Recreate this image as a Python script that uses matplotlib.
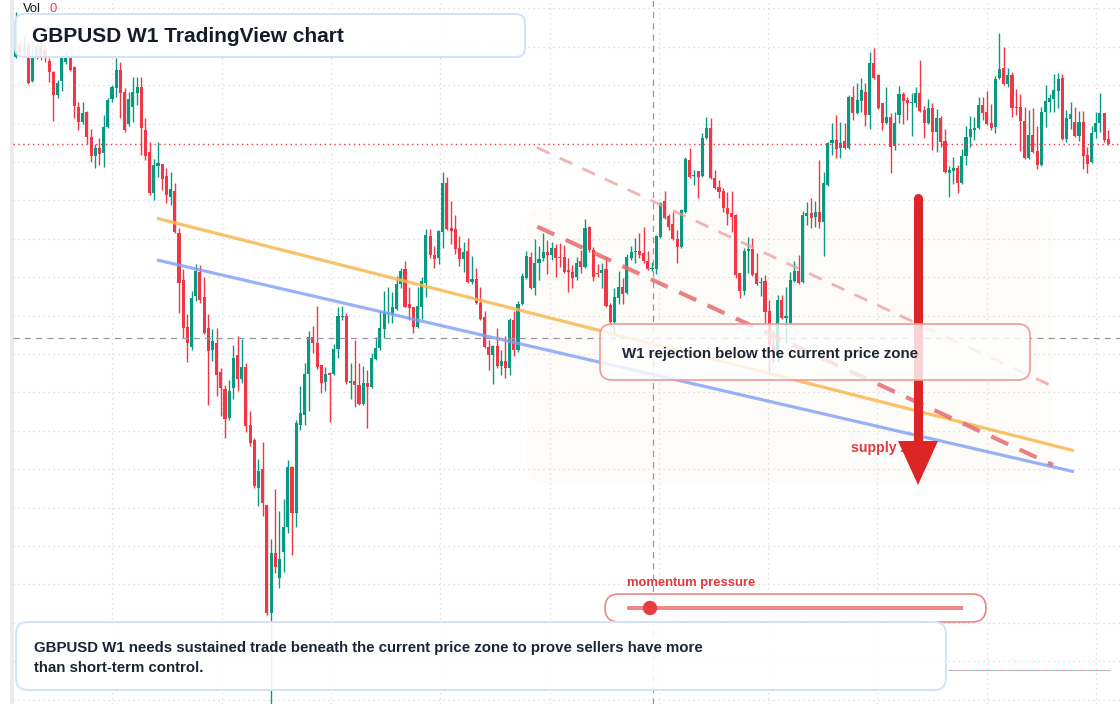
import numpy as np
import matplotlib
matplotlib.use("Agg")
import matplotlib.pyplot as plt
from matplotlib.patches import FancyBboxPatch, Circle, Polygon, Rectangle

# ---------------- data (weekly GBPUSD candles) ----------------
opens = [
    1.593, 1.605, 1.598, 1.605, 1.569, 1.592, 1.604, 1.600, 1.589, 1.578,
    1.555, 1.569, 1.588, 1.592, 1.583, 1.543, 1.528, 1.538, 1.513, 1.494,
    1.502, 1.497, 1.523, 1.551, 1.562, 1.580, 1.558, 1.526, 1.543, 1.557,
    1.563, 1.520, 1.498, 1.457, 1.484, 1.486, 1.474, 1.453, 1.459, 1.417,
    1.370, 1.323, 1.303, 1.354, 1.378, 1.353, 1.322, 1.300, 1.307, 1.278,
    1.261, 1.232, 1.262, 1.295, 1.271, 1.283, 1.225, 1.210, 1.162, 1.181,
    1.145, 1.037, 1.097, 1.072, 1.098, 1.123, 1.183, 1.137, 1.225, 1.235,
    1.276, 1.313, 1.307, 1.285, 1.268, 1.277, 1.276, 1.301, 1.333, 1.334,
    1.267, 1.269, 1.265, 1.246, 1.267, 1.263, 1.291, 1.302, 1.321, 1.336,
    1.336, 1.341, 1.366, 1.381, 1.346, 1.343, 1.323, 1.343, 1.367, 1.414,
    1.395, 1.392, 1.418, 1.467, 1.422, 1.421, 1.402, 1.391, 1.399, 1.368,
    1.371, 1.347, 1.333, 1.303, 1.295, 1.304, 1.284, 1.289, 1.282, 1.330,
    1.300, 1.346, 1.372, 1.393, 1.362, 1.387, 1.392, 1.398, 1.395, 1.402,
    1.393, 1.393, 1.380, 1.378, 1.373, 1.389, 1.383, 1.423, 1.400, 1.377,
    1.377, 1.381, 1.345, 1.328, 1.352, 1.363, 1.357, 1.392, 1.398, 1.399,
    1.397, 1.389, 1.381, 1.381, 1.413, 1.449, 1.434, 1.426, 1.411, 1.403,
    1.438, 1.490, 1.474, 1.479, 1.474, 1.512, 1.522, 1.472, 1.463, 1.459,
    1.442, 1.437, 1.435, 1.377, 1.359, 1.399, 1.401, 1.377, 1.367, 1.369,
    1.339, 1.305, 1.295, 1.350, 1.332, 1.327, 1.369, 1.379, 1.368, 1.434,
    1.437, 1.433, 1.438, 1.428, 1.465, 1.507, 1.510, 1.502, 1.509, 1.502,
    1.553, 1.537, 1.549, 1.558, 1.535, 1.587, 1.575, 1.547, 1.527, 1.533,
    1.504, 1.535, 1.556, 1.550, 1.547, 1.547, 1.557, 1.540, 1.527, 1.542,
    1.518, 1.532, 1.509, 1.477, 1.479, 1.482, 1.467, 1.494, 1.513, 1.520,
    1.522, 1.545, 1.538, 1.527, 1.523, 1.572, 1.582, 1.566, 1.575, 1.543,
    1.543, 1.529, 1.492, 1.515, 1.499, 1.485, 1.538, 1.548, 1.551, 1.559,
    1.572, 1.511, 1.531, 1.528, 1.514, 1.528, 1.495, 1.488, 1.518, 1.527,
    1.537, 1.511,
]
highs = [
    1.638, 1.610, 1.614, 1.608, 1.602, 1.608, 1.608, 1.605, 1.592, 1.579,
    1.570, 1.595, 1.598, 1.595, 1.584, 1.548, 1.548, 1.539, 1.521, 1.506,
    1.512, 1.535, 1.552, 1.565, 1.592, 1.588, 1.562, 1.558, 1.573, 1.573,
    1.573, 1.532, 1.508, 1.491, 1.508, 1.486, 1.482, 1.478, 1.467, 1.422,
    1.381, 1.336, 1.359, 1.386, 1.385, 1.373, 1.336, 1.321, 1.322, 1.282,
    1.265, 1.270, 1.305, 1.314, 1.311, 1.287, 1.239, 1.212, 1.191, 1.208,
    1.145, 1.111, 1.161, 1.139, 1.151, 1.190, 1.184, 1.230, 1.264, 1.287,
    1.319, 1.324, 1.344, 1.285, 1.283, 1.278, 1.306, 1.343, 1.344, 1.337,
    1.287, 1.310, 1.287, 1.284, 1.280, 1.297, 1.313, 1.339, 1.359, 1.363,
    1.358, 1.374, 1.382, 1.389, 1.363, 1.343, 1.363, 1.373, 1.421, 1.421,
    1.404, 1.420, 1.478, 1.473, 1.449, 1.435, 1.414, 1.408, 1.412, 1.394,
    1.382, 1.363, 1.339, 1.310, 1.305, 1.322, 1.300, 1.314, 1.332, 1.339,
    1.349, 1.377, 1.399, 1.398, 1.411, 1.404, 1.417, 1.410, 1.408, 1.406,
    1.407, 1.405, 1.392, 1.385, 1.393, 1.400, 1.431, 1.424, 1.403, 1.386,
    1.387, 1.393, 1.347, 1.362, 1.379, 1.372, 1.396, 1.404, 1.412, 1.417,
    1.423, 1.399, 1.388, 1.415, 1.448, 1.459, 1.436, 1.438, 1.420, 1.441,
    1.493, 1.502, 1.480, 1.479, 1.517, 1.533, 1.532, 1.480, 1.470, 1.462,
    1.458, 1.459, 1.436, 1.377, 1.402, 1.413, 1.412, 1.397, 1.373, 1.375,
    1.350, 1.320, 1.355, 1.355, 1.363, 1.378, 1.389, 1.395, 1.439, 1.448,
    1.452, 1.449, 1.490, 1.478, 1.508, 1.527, 1.535, 1.528, 1.527, 1.555,
    1.564, 1.567, 1.572, 1.567, 1.598, 1.602, 1.576, 1.547, 1.563, 1.537,
    1.538, 1.564, 1.558, 1.553, 1.557, 1.563, 1.590, 1.544, 1.551, 1.547,
    1.541, 1.534, 1.521, 1.484, 1.493, 1.485, 1.501, 1.524, 1.534, 1.533,
    1.553, 1.553, 1.559, 1.546, 1.574, 1.617, 1.603, 1.582, 1.578, 1.561,
    1.556, 1.543, 1.540, 1.542, 1.524, 1.543, 1.565, 1.556, 1.576, 1.577,
    1.576, 1.540, 1.548, 1.543, 1.539, 1.539, 1.503, 1.524, 1.538, 1.557,
    1.537, 1.520,
]
lows = [
    1.592, 1.595, 1.594, 1.566, 1.568, 1.591, 1.590, 1.588, 1.568, 1.529,
    1.552, 1.559, 1.586, 1.579, 1.532, 1.520, 1.526, 1.506, 1.488, 1.482,
    1.485, 1.483, 1.522, 1.548, 1.553, 1.532, 1.518, 1.524, 1.528, 1.545,
    1.495, 1.490, 1.455, 1.450, 1.473, 1.460, 1.447, 1.445, 1.417, 1.337,
    1.312, 1.288, 1.300, 1.349, 1.347, 1.316, 1.245, 1.289, 1.254, 1.234,
    1.212, 1.230, 1.251, 1.259, 1.267, 1.218, 1.204, 1.162, 1.144, 1.134,
    1.035, 0.945, 1.077, 1.062, 1.078, 1.117, 1.095, 1.123, 1.220, 1.225,
    1.239, 1.297, 1.281, 1.257, 1.259, 1.228, 1.275, 1.292, 1.330, 1.266,
    1.251, 1.243, 1.245, 1.245, 1.222, 1.262, 1.290, 1.300, 1.312, 1.327,
    1.327, 1.340, 1.362, 1.343, 1.330, 1.317, 1.322, 1.331, 1.353, 1.392,
    1.382, 1.386, 1.402, 1.420, 1.406, 1.396, 1.384, 1.378, 1.367, 1.366,
    1.346, 1.330, 1.302, 1.280, 1.266, 1.282, 1.275, 1.272, 1.275, 1.294,
    1.298, 1.345, 1.371, 1.361, 1.355, 1.370, 1.389, 1.376, 1.390, 1.373,
    1.383, 1.377, 1.358, 1.362, 1.370, 1.377, 1.382, 1.398, 1.369, 1.373,
    1.362, 1.343, 1.327, 1.317, 1.346, 1.346, 1.356, 1.390, 1.387, 1.392,
    1.387, 1.380, 1.379, 1.376, 1.412, 1.431, 1.420, 1.410, 1.387, 1.402,
    1.437, 1.472, 1.465, 1.452, 1.473, 1.511, 1.471, 1.461, 1.452, 1.438,
    1.425, 1.418, 1.372, 1.352, 1.355, 1.377, 1.374, 1.365, 1.354, 1.327,
    1.278, 1.288, 1.288, 1.331, 1.307, 1.326, 1.368, 1.366, 1.367, 1.425,
    1.422, 1.423, 1.422, 1.394, 1.464, 1.495, 1.492, 1.492, 1.501, 1.501,
    1.530, 1.536, 1.538, 1.524, 1.521, 1.571, 1.541, 1.520, 1.526, 1.477,
    1.500, 1.527, 1.526, 1.530, 1.514, 1.543, 1.538, 1.512, 1.526, 1.500,
    1.498, 1.503, 1.477, 1.453, 1.466, 1.457, 1.466, 1.485, 1.503, 1.510,
    1.521, 1.530, 1.525, 1.520, 1.517, 1.571, 1.565, 1.563, 1.533, 1.535,
    1.499, 1.491, 1.491, 1.497, 1.481, 1.484, 1.523, 1.538, 1.538, 1.542,
    1.510, 1.508, 1.521, 1.513, 1.509, 1.481, 1.477, 1.487, 1.512, 1.518,
    1.508, 1.505,
]
closes = [
    1.605, 1.598, 1.606, 1.567, 1.592, 1.604, 1.593, 1.592, 1.578, 1.555,
    1.567, 1.592, 1.592, 1.580, 1.544, 1.528, 1.537, 1.513, 1.494, 1.502,
    1.496, 1.523, 1.550, 1.563, 1.580, 1.557, 1.520, 1.551, 1.558, 1.563,
    1.522, 1.494, 1.457, 1.485, 1.487, 1.471, 1.455, 1.461, 1.418, 1.367,
    1.322, 1.307, 1.352, 1.379, 1.350, 1.317, 1.299, 1.309, 1.275, 1.262,
    1.231, 1.259, 1.292, 1.271, 1.283, 1.224, 1.207, 1.164, 1.179, 1.147,
    1.037, 1.097, 1.083, 1.091, 1.123, 1.183, 1.137, 1.227, 1.237, 1.276,
    1.313, 1.307, 1.283, 1.267, 1.276, 1.275, 1.301, 1.334, 1.334, 1.268,
    1.269, 1.265, 1.246, 1.267, 1.263, 1.292, 1.302, 1.322, 1.338, 1.337,
    1.343, 1.366, 1.379, 1.343, 1.342, 1.323, 1.344, 1.369, 1.415, 1.395,
    1.391, 1.419, 1.467, 1.421, 1.419, 1.401, 1.391, 1.398, 1.368, 1.371,
    1.347, 1.331, 1.303, 1.295, 1.304, 1.284, 1.289, 1.282, 1.330, 1.300,
    1.346, 1.374, 1.394, 1.362, 1.387, 1.391, 1.398, 1.395, 1.402, 1.392,
    1.392, 1.378, 1.378, 1.372, 1.387, 1.383, 1.422, 1.400, 1.373, 1.376,
    1.380, 1.344, 1.328, 1.353, 1.363, 1.356, 1.393, 1.398, 1.399, 1.395,
    1.389, 1.381, 1.382, 1.414, 1.447, 1.432, 1.423, 1.411, 1.403, 1.440,
    1.491, 1.473, 1.475, 1.473, 1.512, 1.522, 1.472, 1.462, 1.458, 1.442,
    1.436, 1.433, 1.375, 1.359, 1.399, 1.401, 1.375, 1.366, 1.368, 1.338,
    1.305, 1.295, 1.350, 1.332, 1.334, 1.370, 1.379, 1.367, 1.435, 1.437,
    1.432, 1.438, 1.428, 1.467, 1.507, 1.510, 1.501, 1.507, 1.502, 1.553,
    1.537, 1.550, 1.560, 1.535, 1.587, 1.572, 1.542, 1.527, 1.533, 1.503,
    1.527, 1.556, 1.549, 1.547, 1.548, 1.557, 1.539, 1.527, 1.542, 1.518,
    1.532, 1.508, 1.478, 1.480, 1.482, 1.467, 1.494, 1.513, 1.521, 1.522,
    1.545, 1.537, 1.526, 1.522, 1.571, 1.581, 1.566, 1.575, 1.542, 1.542,
    1.529, 1.492, 1.515, 1.498, 1.485, 1.538, 1.549, 1.552, 1.560, 1.571,
    1.511, 1.532, 1.536, 1.514, 1.528, 1.494, 1.486, 1.517, 1.527, 1.537,
    1.510, 1.506,
]

# drawn trend lines: (candle index, price)
orange_x = [33.76, 252.8]
orange_y = [1.4317, 1.1993]
blue_x = [33.76, 252.8]
blue_y = [1.3900, 1.1783]
upper_dash_x = [124.5, 247.6]
upper_dash_y = [1.5025, 1.2640]
lower_dash_x = [124.6, 247.8]
lower_dash_y = [1.4233, 1.1850]
current_price = 1.506
crosshair_price = 1.3117
crosshair_index = 152.2

title = "GBPUSD W1 TradingView chart"
box_text = "W1 rejection below the current price zone"
zone_label = "supply zone"
gauge_label = "momentum pressure"
note_lines = ["GBPUSD W1 needs sustained trade beneath the current price zone to prove sellers have more",
              "than short-term control."]

# ---------------- figure ----------------
W, H = 1120, 704
fig = plt.figure(figsize=(W / 100, H / 100), dpi=100)
fig.patch.set_facecolor("white")
FONT = ["Liberation Sans", "DejaVu Sans"]

# background layer (pixel coords, y downward)
bg = fig.add_axes([0, 0, 1, 1], zorder=0)
bg.set_xlim(0, W); bg.set_ylim(H, 0); bg.axis("off")
bg.add_patch(Rectangle((9.5, 0), 4, H, facecolor="#ececec", edgecolor="none"))
bg.add_patch(FancyBboxPatch((527, 207), 525, 276, boxstyle="round,pad=0,rounding_size=18",
                            facecolor="#fefcf9", edgecolor="none"))

# main price axes
n = min(len(opens), len(highs), len(lows), len(closes))
o = np.array(opens[:n]); h = np.array(highs[:n]); l = np.array(lows[:n]); c = np.array(closes[:n])
idx = np.arange(n)
step = (1108.3 - 15.7) / (n - 1)
left_px = 13.0
ax = fig.add_axes([left_px / W, 0, 1 - left_px / W, 1], zorder=1)
ax.set_facecolor("none")
ax.set_xlim((left_px - 15.7) / step, (W - 15.7) / step)
ax.set_ylim(1.650 - H / 1000.0, 1.650)
for s in ax.spines.values():
    s.set_visible(False)
ax.tick_params(left=False, bottom=False, labelleft=False, labelbottom=False)

# grid
ax.set_yticks(np.arange(1.6415, 0.94, -0.0384))
ax.set_xticks(np.arange(23.08, n + 5, 109.3 / step))
ax.grid(True, color="#d5d8df", linestyle=(0, (1, 3)), linewidth=0.9, zorder=0)

up = c >= o
cols = np.where(up, "#089981", "#f23645")
ax.vlines(idx, l, h, colors=cols, linewidth=1.0, zorder=3)
body_bottom = np.minimum(o, c)
body_h = np.maximum(np.abs(c - o), 0.0012)
ax.bar(idx, body_h, bottom=body_bottom, width=0.74, color=cols, linewidth=0, zorder=4)

# current price line and crosshair
ax.axhline(current_price, color="#f23645", linestyle=(0, (1, 2.5)), linewidth=1.0, zorder=5)
ax.axhline(crosshair_price, color="#9598a1", linestyle=(0, (5, 4)), linewidth=0.9, zorder=5)
ax.axvline(crosshair_index, color="#9598a1", linestyle=(0, (5, 4)), linewidth=0.9, zorder=5)

# trend lines
ax.plot(orange_x, orange_y, color="#f9b84e", alpha=0.85, linewidth=2.3, zorder=6, solid_capstyle="butt")
ax.plot(blue_x, blue_y, color="#7f9ff6", alpha=0.8, linewidth=2.3, zorder=6, solid_capstyle="butt")
ax.plot(upper_dash_x, upper_dash_y, color="#f09a9a", alpha=0.75, linewidth=2.0,
        linestyle=(0, (5, 4)), zorder=6)
ax.plot(lower_dash_x, lower_dash_y, color="#e66a6e", alpha=0.85, linewidth=3.0,
        linestyle=(0, (4.5, 3)), zorder=6)

# ---------------- overlay annotations ----------------
ov = fig.add_axes([0, 0, 1, 1], zorder=5)
ov.set_xlim(0, W); ov.set_ylim(H, 0); ov.axis("off"); ov.set_facecolor("none")

ov.text(23, 9, "Vol", fontsize=9.4, color="#131722", va="center", ha="left", family=FONT)
ov.text(49, 9, "0", fontsize=9.4, color="#f23645", va="center", ha="left", family=FONT)

# title box
ov.add_patch(FancyBboxPatch((15, 14), 510, 43, boxstyle="round,pad=0,rounding_size=9",
                            facecolor=(1, 1, 1, 0.88), edgecolor="#d3e2f7", linewidth=1.4, zorder=2))
ov.text(32, 36, title, fontsize=15.0, fontweight="bold", color="#131c2b", va="center", ha="left",
        family=FONT, zorder=3)

# supply zone label and arrow
ov.text(851, 448, zone_label, fontsize=10.2, fontweight="bold", color="#e0393e", va="center",
        ha="left", family=FONT, zorder=2)
ov.plot([918, 918], [197.5, 445], color="#dc2626", linewidth=6.5, solid_capstyle="round", zorder=3)
ov.add_patch(Polygon([(898, 441), (938, 441), (918, 485)], closed=True, facecolor="#dc2626",
                     edgecolor="none", zorder=3))

# rejection box
ov.add_patch(FancyBboxPatch((600, 324), 430, 56, boxstyle="round,pad=0,rounding_size=12",
                            facecolor=(1, 1, 1, 0.8), edgecolor="#f09a9a", linewidth=1.2, zorder=4))
ov.text(622, 354, box_text, fontsize=10.8, fontweight="bold", color="#1b2433", va="center",
        ha="left", family=FONT, zorder=5)

# momentum gauge
ov.text(627, 583, gauge_label, fontsize=9.35, fontweight="bold", color="#e0393e", va="center",
        ha="left", family=FONT, zorder=4)
ov.add_patch(FancyBboxPatch((605, 594), 381, 28, boxstyle="round,pad=0,rounding_size=14",
                            facecolor=(1, 1, 1, 0.85), edgecolor="#ee8686", linewidth=1.2, zorder=4))
ov.plot([627, 963], [608, 608], color="#f08585", linewidth=2.8, solid_capstyle="butt", zorder=5)
ov.add_patch(Circle((650, 608), 7.2, facecolor="#e53e3e", edgecolor="none", zorder=6))

# bottom note box
ov.add_patch(FancyBboxPatch((16, 622), 930, 68, boxstyle="round,pad=0,rounding_size=12",
                            facecolor=(1, 1, 1, 0.9), edgecolor="#d3e2f7", linewidth=1.4, zorder=4))
ov.text(34, 648, note_lines[0], fontsize=10.8, fontweight="bold", color="#1b2433", va="center",
        ha="left", family=FONT, zorder=5)
ov.text(34, 668, note_lines[1], fontsize=10.8, fontweight="bold", color="#1b2433", va="center",
        ha="left", family=FONT, zorder=5)

# small volume baseline marks bottom right
ov.plot([948, 1110], [670, 670], color="#f23645", alpha=0.5, linewidth=0.8, linestyle=(0, (3, 3)), zorder=1)
ov.plot([948, 1110], [670, 670], color="#089981", alpha=0.5, linewidth=0.8, linestyle=(3, (3, 3)), zorder=1)

fig.savefig("out.png", dpi=100)
